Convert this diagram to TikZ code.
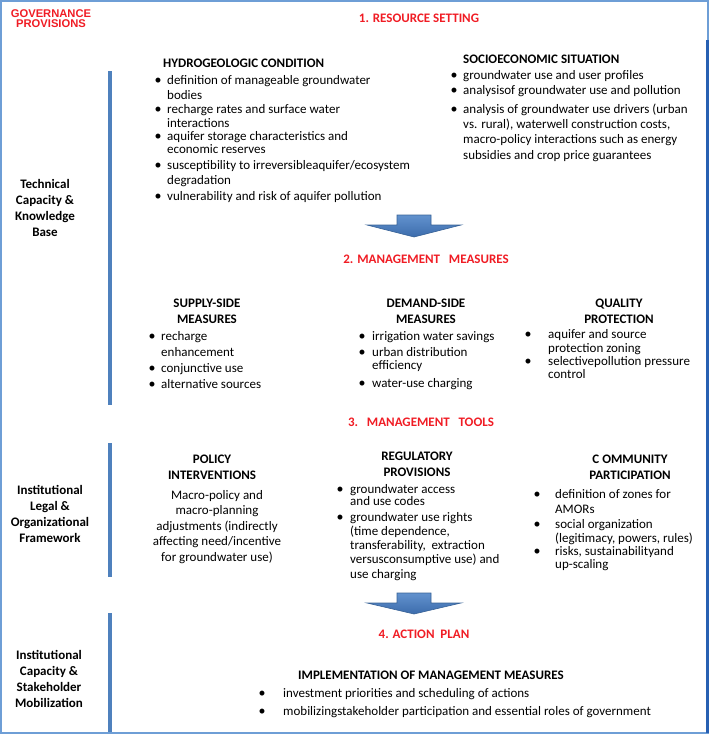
\documentclass[tikz,border=0pt]{standalone}
\usepackage{fontspec}
\setmainfont{Carlito}
\newfontfamily\arialf{Liberation Sans}
\definecolor{hred}{RGB}{240,28,36}
\definecolor{barblue}{RGB}{79,129,189}
\definecolor{frameblue}{RGB}{110,158,214}
\definecolor{framedark}{RGB}{40,96,178}
\definecolor{arrowtop}{RGB}{98,146,206}
\definecolor{arrowbot}{RGB}{60,108,172}
\definecolor{arrowline}{RGB}{56,98,150}
\begin{document}
\begin{tikzpicture}[x=1pt,y=-1pt,
  txt/.style={inner sep=0pt, anchor=base west, align=left, font=\fontsize{13}{#1}\selectfont},
  txt/.default=15,
  ctxt/.style={inner sep=0pt, anchor=base, align=center, font=\fontsize{13}{#1}\selectfont},
  ctxt/.default=15.5,
  ctr/.style={inner sep=0pt, anchor=base, align=center, font=\bfseries\fontsize{13}{16}\selectfont},
  hd/.style={inner sep=0pt, anchor=base west, font=\bfseries\fontsize{13}{15}\selectfont},
  redhd/.style={inner sep=0pt, anchor=base, text=hred, font=\bfseries\fontsize{13}{15}\selectfont},
  bul/.style={inner sep=0pt, anchor=base, font=\fontsize{14}{15}\selectfont},
  bar/.style={draw=barblue, line width=3.5pt},
  bigarrow/.style={top color=arrowtop, bottom color=arrowbot, draw=arrowline, line width=0.6pt}]
\useasboundingbox (0,0) rectangle (709,734);
% frame
\draw[frameblue, line width=2pt] (1,1) rectangle (708,733);
\draw[framedark, line width=2.5pt] (707.5,40) -- (707.5,733);
% vertical bars
\draw[bar] (110,71) -- (110,405);
\draw[bar] (110,443) -- (110,577);
\draw[bar] (110,613) -- (110,732);
% arrows
\draw[bigarrow] (397,215) -- (431,215) -- (431,225) -- (461,225) -- (414,237) -- (367,225) -- (397,225) -- cycle;
\draw[bigarrow] (397,593) -- (431,593) -- (431,603) -- (461,603) -- (414,614) -- (367,603) -- (397,603) -- cycle;

% governance (node anchored at baseline of last line)
\node[inner sep=0pt, anchor=base, align=center, text=hred, font=\arialf\bfseries\fontsize{11.2}{10.6}\selectfont] (gov) at (51,27.6) {GOVERNANCE\\PROVISIONS};
% left labels
\node[ctr] (tech) at (45,236) {Technical\\Capacity \&\\Knowledge\\Base};
\node[ctr] (inst) at (50,542) {Institutional\\Legal \&\\Organizational\\Framework};
\node[ctr] (cap) at (49,707) {Institutional\\Capacity \&\\Stakeholder\\Mobilization};

% 1. resource setting
\node[redhd] (rs) at (419,22) {1. RESOURCE SETTING};
\node[hd] (hydroH) at (163,67) {HYDROGEOLOGIC CONDITION};
\node[bul] (hb1) at (158,84) {•};
\node[txt=15] (h1) at (167,99) {definition of manageable groundwater\\bodies};
\node[bul] (hb2) at (158,113) {•};
\node[txt=14] (h2) at (167,127) {recharge rates and surface water\\interactions};
\node[bul] (hb3) at (158,140) {•};
\node[txt=13.5] (h3) at (167,153.5) {aquifer storage characteristics and\\economic reserves};
\node[bul] (hb4) at (158,169) {•};
\node[txt=15] (h4) at (167,184) {susceptibility to irreversibleaquifer/ecosystem\\degradation};
\node[bul] (hb5) at (158,200) {•};
\node[txt] (h5) at (167,200) {vulnerability and risk of aquifer pollution};

\node[hd] (socioH) at (463,63) {SOCIOECONOMIC SITUATION};
\node[bul] (sb1) at (454,79) {•};
\node[txt] (s1) at (463,79) {groundwater use and user profiles};
\node[bul] (sb2) at (454,94) {•};
\node[txt] (s2) at (463,94) {analysisof groundwater use and pollution};
\node[bul] (sb3) at (454,113) {•};
\node[txt=15.3] (s3) at (463,159) {analysis of groundwater use drivers (urban\\vs. rural), waterwell construction costs,\\macro-policy interactions such as energy\\subsidies and crop price guarantees};

% 2. management measures
\node[redhd] (mm) at (426,263) {2. MANAGEMENT\ \ \ MEASURES};
\node[ctr] (supH) at (207,323) {SUPPLY-SIDE\\MEASURES};
\node[bul] (pb1) at (152,340) {•};
\node[txt=16] (p1) at (161,356) {recharge\\enhancement};
\node[bul] (pb2) at (152,372) {•};
\node[txt] (p2) at (161,372) {conjunctive use};
\node[bul] (pb3) at (152,388) {•};
\node[txt] (p3) at (161,388) {alternative sources};

\node[ctr] (demH) at (426,323) {DEMAND-SIDE\\MEASURES};
\node[bul] (db1) at (362,340) {•};
\node[txt] (d1) at (372,340) {irrigation water savings};
\node[bul] (db2) at (362,356) {•};
\node[txt=13.5] (d2) at (372,369.5) {urban distribution\\efficiency};
\node[bul] (db3) at (362,387) {•};
\node[txt] (d3) at (372,387) {water-use charging};

\node[ctr] (qualH) at (619,323) {QUALITY\\PROTECTION};
\node[bul] (qb1) at (528,338) {•};
\node[txt=14] (q1) at (548,352) {aquifer and source\\protection zoning};
\node[bul] (qb2) at (528,365) {•};
\node[txt=13] (q2) at (548,378) {selectivepollution pressure\\control};

% 3. management tools
\node[redhd] (mt) at (421,426) {3.\ \ \ MANAGEMENT\ \ \ TOOLS};
\node[ctr] (polH) at (212,479) {POLICY\\INTERVENTIONS};
\node[ctxt=15.5] (pol) at (217,561) {Macro-policy and\\macro-planning\\adjustments (indirectly\\affecting need/incentive\\for groundwater use)};

\node[ctr] (regH) at (417,476) {REGULATORY\\PROVISIONS};
\node[bul] (rb1) at (340,493) {•};
\node[txt=12.5] (r1) at (350,505.5) {groundwater access\\and use codes};
\node[bul] (rb2) at (340,521) {•};
\node[txt=14.3] (r2) at (350,578.2) {groundwater use rights\\(time dependence,\\transferability,\ \ extraction\\versusconsumptive use) and\\use charging};

\node[ctr] (comH) at (630,479) {C OMMUNITY\\PARTICIPATION};
\node[bul] (cb1) at (537,498) {•};
\node[txt=15] (c1) at (555,513) {definition of zones for\\AMORs};
\node[bul] (cb2) at (537,528) {•};
\node[txt=14] (c2) at (555,542) {social organization\\(legitimacy, powers, rules)};
\node[bul] (cb3) at (537,555) {•};
\node[txt=13] (c3) at (555,568) {risks, sustainabilityand\\up-scaling};

% 4. action plan
\node[redhd] (ap) at (424,638) {4. ACTION\ \ PLAN};
\node[hd] (impH) at (298,679) {IMPLEMENTATION OF MANAGEMENT MEASURES};
\node[bul] (ab1) at (262,697) {•};
\node[txt] (a1) at (283,697) {investment priorities and scheduling of actions};
\node[bul] (ab2) at (262,715) {•};
\node[txt] (a2) at (283,715) {mobilizingstakeholder participation and essential roles of government};
\end{tikzpicture}
\end{document}
